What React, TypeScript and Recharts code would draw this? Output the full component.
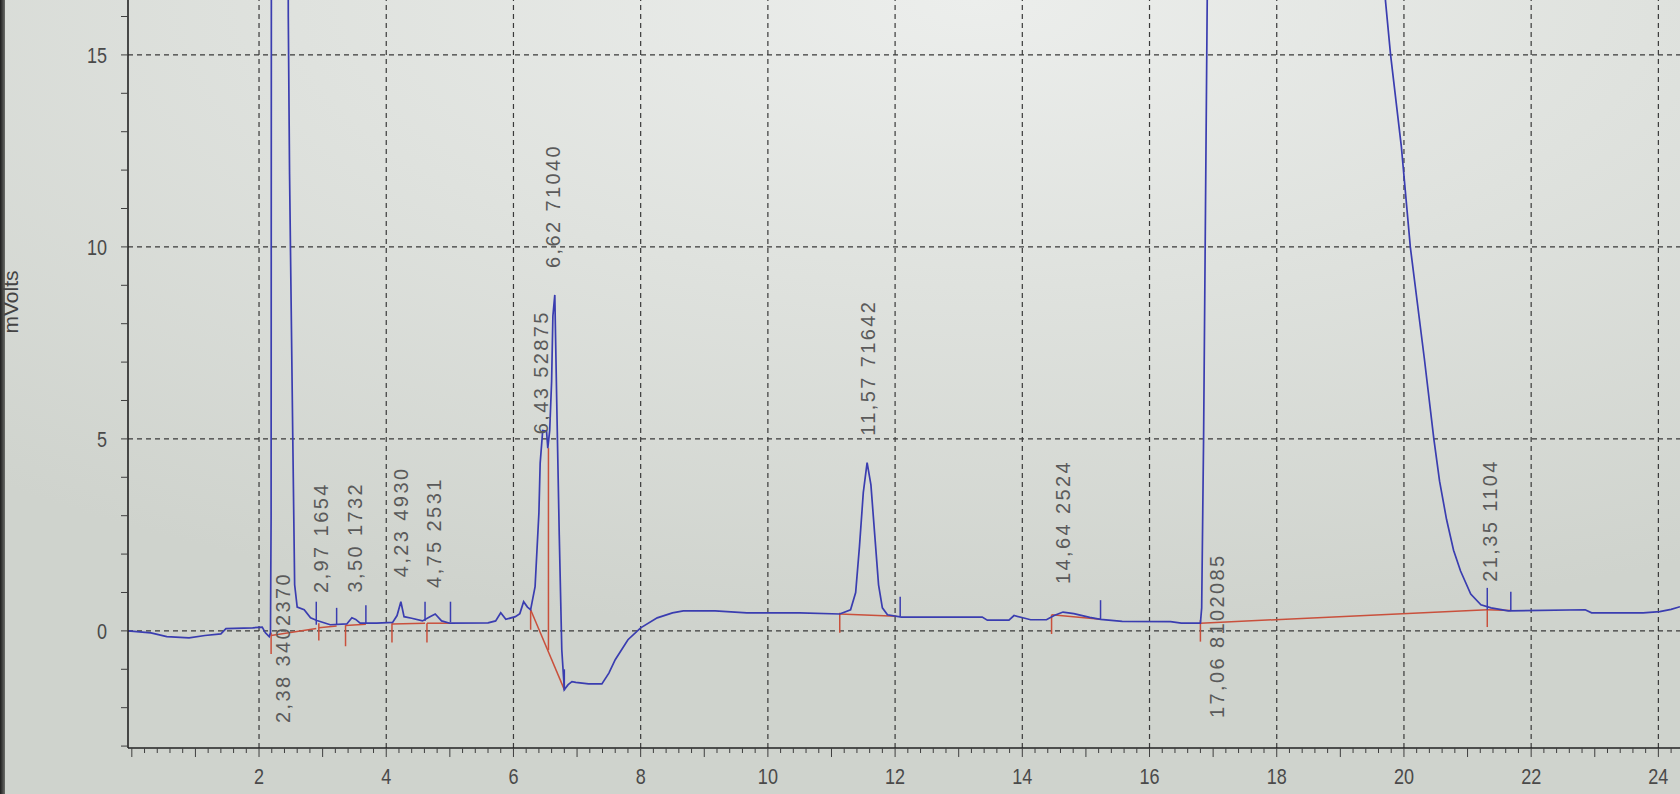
import {
  ComposedChart,
  Line,
  Scatter,
  XAxis,
  YAxis,
  ReferenceLine,
} from "recharts";

// detector trace (minutes / mV)
const traceTime = [
  -0.06, 0.3, 0.55, 0.9, 1.15, 1.4, 1.48, 1.9, 2.05, 2.1, 2.16, 2.18, 2.19, 2.2,
  2.32, 2.44, 2.46, 2.48, 2.53, 2.56, 2.6, 2.71, 2.81, 2.91, 3.12, 3.38, 3.46,
  3.52, 3.59, 3.85, 4.1, 4.17, 4.23, 4.28, 4.4, 4.57, 4.68, 4.77, 4.87, 5.0,
  5.6, 5.72, 5.8, 5.88, 6.03, 6.1, 6.16, 6.22, 6.27, 6.34, 6.4, 6.42, 6.46,
  6.52, 6.54, 6.57, 6.6, 6.62, 6.65, 6.68, 6.72, 6.76, 6.8, 6.86, 6.92, 6.98,
  7.18, 7.39, 7.5, 7.6, 7.8, 8.0, 8.26, 8.5, 8.67, 9.17, 9.67, 10.5, 11.13,
  11.3, 11.38, 11.44, 11.5, 11.56, 11.62, 11.68, 11.74, 11.8, 11.88, 12.1,
  13.37, 13.45, 13.79, 13.87, 14.04, 14.13, 14.38, 14.5, 14.64, 14.81, 15.06,
  15.23, 15.57, 16.33, 16.5, 16.8, 16.82, 16.85, 16.88, 16.91, 16.95, 18.3,
  19.6, 19.71, 19.79, 19.96, 20.1, 20.32, 20.47, 20.56, 20.67, 20.78, 20.89,
  21.05, 21.21, 21.37, 21.64, 22.85, 22.95, 23.76, 24.02, 24.2, 24.34,
];
const traceMv = [
  0.0, -0.05, -0.15, -0.18, -0.12, -0.08, 0.06, 0.08, 0.1, -0.05, -0.15, -0.05,
  3.0, 40, 90, 40, 16.0, 11.9, 5.1, 1.2, 0.62, 0.55, 0.34, 0.27, 0.16, 0.18,
  0.34, 0.3, 0.2, 0.2, 0.22, 0.4, 0.76, 0.37, 0.33, 0.26, 0.36, 0.44, 0.26, 0.2,
  0.21, 0.26, 0.47, 0.3, 0.37, 0.45, 0.76, 0.62, 0.55, 1.15, 3.07, 4.37, 5.22,
  5.2, 4.76, 5.22, 6.5, 8.2, 8.75, 6.0, 2.5, -0.5, -1.53, -1.4, -1.32, -1.34,
  -1.38, -1.38, -1.1, -0.75, -0.23, 0.08, 0.34, 0.47, 0.52, 0.52, 0.47, 0.47,
  0.44, 0.55, 1.0, 2.2, 3.6, 4.38, 3.8, 2.5, 1.2, 0.6, 0.42, 0.36, 0.36, 0.28,
  0.28, 0.4, 0.33, 0.29, 0.29, 0.4, 0.49, 0.45, 0.35, 0.3, 0.25, 0.24, 0.2, 0.2,
  0.6, 5.0, 11.0, 17.0, 30, 200, 20, 16.4, 15.0, 12.6, 10.0, 7.1, 5.0, 3.9, 2.9,
  2.1, 1.56, 0.96, 0.68, 0.6, 0.52, 0.55, 0.47, 0.47, 0.5, 0.56, 0.63,
];

// integration baselines: [t1, mV1, t2, mV2]
const baselines = [
  [2.19, -0.12, 2.9, 0.06],
  [2.94, 0.08, 3.22, 0.13],
  [3.36, 0.14, 3.68, 0.17],
  [4.09, 0.18, 4.61, 0.2],
  [4.64, 0.2, 5.01, 0.2],
  [6.27, 0.55, 6.8, -1.53],
  [11.13, 0.44, 12.02, 0.38],
  [14.46, 0.42, 15.23, 0.3],
  [16.8, 0.2, 21.31, 0.55],
  [21.31, 0.55, 21.68, 0.53],
];

// peak start marks (red) and end marks (blue): [t, top, bottom]
const startMarks = [
  [2.19, -0.05, -0.6],
  [2.94, 0.2, -0.25],
  [3.36, 0.15, -0.4],
  [4.09, 0.2, -0.3],
  [4.64, 0.2, -0.3],
  [6.27, 0.55, 0.03],
  [6.55, 4.76, -0.5],
  [11.13, 0.47, -0.05],
  [14.46, 0.42, -0.08],
  [16.8, 0.28, -0.28],
  [21.31, 0.55, 0.1],
];
const endMarks = [
  [2.9, 0.76, 0.16],
  [3.22, 0.6, 0.16],
  [3.68, 0.67, 0.2],
  [4.61, 0.76, 0.26],
  [5.01, 0.76, 0.23],
  [6.8, -1.0, -1.55],
  [12.08, 0.89, 0.38],
  [15.23, 0.8, 0.3],
  [21.31, 1.12, 0.55],
  [21.68, 1.02, 0.53],
];

const peakTimes = [2.38, 2.97, 3.5, 4.23, 4.75, 6.43, 6.62, 11.57, 14.64, 17.06, 21.35];
const peakAreas = [3402370, 1654, 1732, 4930, 2531, 52875, 71040, 71642, 2524, 8102085, 1104];
const labelFootMv = [-2.4, 0.99, 1.0, 1.4, 1.12, 5.12, 9.45, 5.08, 1.22, -2.27, 1.28];

const gridX = [2, 4, 6, 8, 10, 12, 14, 16, 18, 20, 22, 24];
const gridY = [0, 5, 10, 15];
const xLabels = [2, 4, 6, 8, 10, 12, 14, 16, 18, 20, 22, 24];
const yLabels = [0, 5, 10, 15];
const yTicks = [-3, -2, -1, 0, 1, 2, 3, 4, 5, 6, 7, 8, 9, 10, 11, 12, 13, 14, 15, 16];
const xTicks = Array.from({ length: 122 }, (_, i) => Math.round(i * 2) / 10);

const trace = traceTime.map((t, i) => ({ t, v: traceMv[i] }));
const peakLabels = peakTimes.map((t, i) => ({
  t,
  y: labelFootMv[i],
  text: t.toFixed(2).replace(".", ",") + " " + peakAreas[i],
}));

const BLUE = "#3a3db0";
const RED = "#c9503c";
const INK = "#3f3f3f";

const XTick = (props: any) => {
  const { x, y, payload } = props;
  const v = payload.value;
  const whole = Math.abs(v - Math.round(v)) < 1e-6;
  const show = whole && xLabels.includes(Math.round(v));
  return (
    <g>
      <line x1={x} x2={x} y1={y} y2={y + (whole ? 9 : 5)} stroke={INK} strokeWidth={1} />
      {show && (
        <text
          transform={`translate(${x}, ${y + 36}) scale(0.82, 1)`}
          textAnchor="middle"
          fontSize={22}
          fontFamily="'Liberation Sans', Arial, sans-serif"
          fill="#4a4a4a"
        >
          {Math.round(v)}
        </text>
      )}
    </g>
  );
};

const YTick = (props: any) => {
  const { x, y, payload } = props;
  const v = payload.value;
  return (
    <g>
      <line x1={x - 7} x2={x} y1={y} y2={y} stroke={INK} strokeWidth={1} />
      {yLabels.includes(v) && (
        <text
          transform={`translate(${x - 21}, ${y + 8}) scale(0.82, 1)`}
          textAnchor="end"
          fontSize={22}
          fontFamily="'Liberation Sans', Arial, sans-serif"
          fill="#4a4a4a"
        >
          {v}
        </text>
      )}
    </g>
  );
};

const PeakLabel = (props: any) => {
  const { cx, cy, payload } = props;
  return (
    <text
      x={cx}
      y={cy}
      dy="0.36em"
      transform={`rotate(-90 ${cx} ${cy})`}
      textAnchor="start"
      fontSize={20}
      letterSpacing={2.4}
      fontFamily="'Liberation Sans', Arial, sans-serif"
      fill="#5a5a5a"
    >
      {payload.text}
    </text>
  );
};

export default function App() {
  return (
    <div
      style={{
        position: "relative",
        width: 1680,
        height: 794,
        overflow: "hidden",
        background:
          "radial-gradient(ellipse 90% 80% at 58% 0%, #eceeec 0%, #dfe2de 45%, #cfd3cd 100%)",
      }}
    >
      <style>{"body{margin:0}"}</style>
      <div
        style={{
          position: "absolute",
          left: 0,
          top: 0,
          width: 5,
          height: 794,
          background: "linear-gradient(to right, #1c1c1c, #6a6c68)",
        }}
      />
      <div
        style={{
          position: "absolute",
          left: 11,
          top: 302,
          transform: "translate(-50%, -50%) rotate(-90deg)",
          fontFamily: "'Liberation Sans', Arial, sans-serif",
          fontSize: 21,
          color: "#444",
          whiteSpace: "nowrap",
        }}
      >
        mVolts
      </div>
      <ComposedChart
        width={1680}
        height={794}
        margin={{ top: 0, right: 0, bottom: 0, left: 0 }}
      >
        <XAxis
          dataKey="t"
          type="number"
          domain={[-0.06, 24.34]}
          ticks={xTicks}
          interval={0}
          allowDataOverflow
          height={46}
          tickSize={0}
          tickMargin={0}
          tickLine={false}
          tick={<XTick />}
          axisLine={{ stroke: "#222", strokeWidth: 1.6 }}
        />
        <YAxis
          type="number"
          domain={[-3.05, 16.43]}
          ticks={yTicks}
          interval={0}
          allowDataOverflow
          width={128}
          tickSize={0}
          tickMargin={0}
          tickLine={false}
          tick={<YTick />}
          axisLine={{ stroke: "#222", strokeWidth: 1.6 }}
        />
        {gridX.map((g) => (
          <ReferenceLine key={"gx" + g} x={g} stroke="#3a3a3a" strokeWidth={1.2} strokeDasharray="5 4" />
        ))}
        {gridY.map((g) => (
          <ReferenceLine key={"gy" + g} y={g} stroke="#3a3a3a" strokeWidth={1.2} strokeDasharray="5 4" />
        ))}
        {baselines.map((b, i) => (
          <ReferenceLine
            key={"b" + i}
            segment={[
              { x: b[0], y: b[1] },
              { x: b[2], y: b[3] },
            ]}
            stroke={RED}
            strokeWidth={1.5}
          />
        ))}
        {startMarks.map((m, i) => (
          <ReferenceLine
            key={"s" + i}
            segment={[
              { x: m[0], y: m[1] },
              { x: m[0], y: m[2] },
            ]}
            stroke={RED}
            strokeWidth={1.5}
          />
        ))}
        {endMarks.map((m, i) => (
          <ReferenceLine
            key={"e" + i}
            segment={[
              { x: m[0], y: m[1] },
              { x: m[0], y: m[2] },
            ]}
            stroke={BLUE}
            strokeWidth={1.5}
          />
        ))}
        <Line
          data={trace}
          dataKey="v"
          type="linear"
          stroke={BLUE}
          strokeWidth={1.7}
          dot={false}
          activeDot={false}
          isAnimationActive={false}
        />
        <Scatter
          data={peakLabels}
          dataKey="y"
          shape={<PeakLabel />}
          isAnimationActive={false}
        />
      </ComposedChart>
    </div>
  );
}
